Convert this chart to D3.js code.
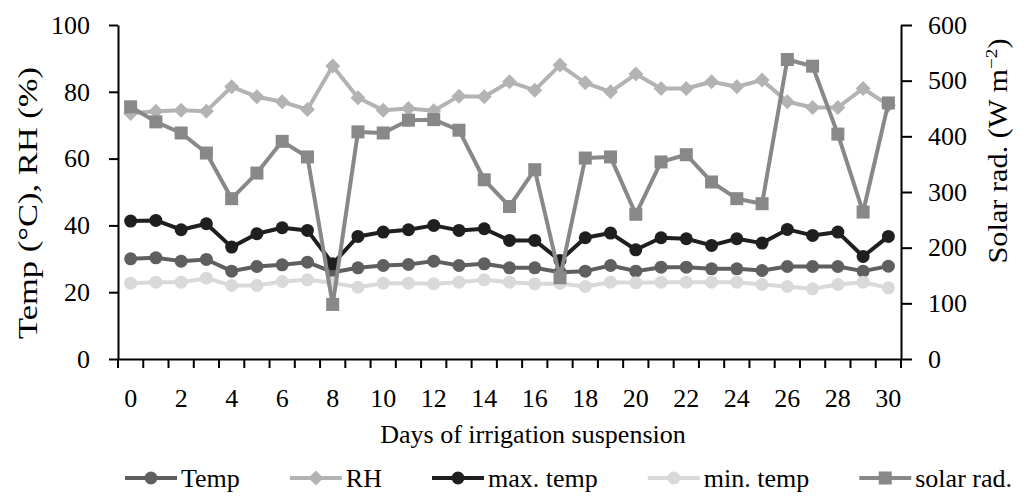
<!DOCTYPE html>
<html><head><meta charset="utf-8">
<script src="https://cdn.jsdelivr.net/npm/d3@7"></script>
<style>
body{margin:0;background:#fff}
text{font-family:"Liberation Serif","Times New Roman",serif;fill:#000}
</style></head>
<body>
<svg id="c" width="1024" height="499"></svg>
<script>
const days=[0,1,2,3,4,5,6,7,8,9,10,11,12,13,14,15,16,17,18,19,20,21,22,23,24,25,26,27,28,29,30];
const temp=[30.0,30.3,29.3,29.8,26.3,27.7,28.2,29.0,26.0,27.3,28.0,28.3,29.3,28.0,28.5,27.3,27.3,26.0,26.3,28.0,26.3,27.5,27.5,27.0,27.0,26.5,27.7,27.7,27.7,26.3,27.8];
const rh=[73.5,74.2,74.5,74.2,81.5,78.5,77.0,74.7,87.7,78.2,74.5,75.0,74.3,78.7,78.5,83.0,80.5,88.0,82.7,80.0,85.3,81.0,81.0,83.0,81.5,83.5,77.0,75.3,75.3,81.0,76.0];
const maxTemp=[41.3,41.5,38.7,40.5,33.5,37.5,39.3,38.5,28.5,36.7,38.0,38.7,40.0,38.5,39.0,35.5,35.5,29.5,36.3,37.7,32.7,36.3,36.0,34.0,36.0,34.7,38.8,37.0,38.0,30.7,36.7];
const minTemp=[22.7,23.0,23.0,24.2,22.0,22.0,23.2,23.7,22.8,21.5,22.7,22.7,22.5,23.0,23.7,23.0,22.5,22.6,21.7,23.0,22.8,23.0,23.0,23.0,23.0,22.3,21.7,21.0,22.3,23.0,21.3];
const solar=[453,426,406,370,288,334,391,363,98,408,406,429,430,411,322,274,340,146,361,363,260,354,367,318,288,279,538,526,404,264,460];
const leftTicks=[0,20,40,60,80,100];
const rightTicks=[0,100,200,300,400,500,600];
const xTickLabels=[0,2,4,6,8,10,12,14,16,18,20,22,24,26,28,30];

const FONT='"Liberation Serif","Times New Roman",serif';
const svg=d3.select("#c");
const L=118,R=901,T=25,B=359;
const x=d3.scaleBand().domain(days).range([L,R]);
const cx=d=>x(d)+x.bandwidth()/2;
const yL=d3.scaleLinear().domain([0,100]).range([B,T]);
const yR=d3.scaleLinear().domain([0,600]).range([B,T]);

// axes
const gl=svg.append("g").attr("transform",`translate(${L},0)`)
  .call(d3.axisLeft(yL).tickValues(leftTicks).tickSize(9).tickSizeOuter(0).tickPadding(19));
const gr=svg.append("g").attr("transform",`translate(${R},0)`)
  .call(d3.axisRight(yR).tickValues(rightTicks).tickSize(11).tickSizeOuter(0).tickPadding(16));
const gx=svg.append("g").attr("transform",`translate(0,${B})`)
  .call(d3.axisBottom(x).tickValues(xTickLabels).tickSize(0).tickSizeOuter(0).tickPadding(30));
gx.selectAll(".tick line").remove();
const bounds=days.map(d=>x(d)).concat([R]);
svg.append("g").selectAll("line").data(bounds).join("line")
  .attr("x1",d=>d).attr("x2",d=>d).attr("y1",B).attr("y2",B+9)
  .attr("stroke","#000").attr("stroke-width",2);
[gl,gr,gx].forEach(g=>{
  g.attr("font-family",null).attr("font-size",null);
  g.selectAll("path.domain").attr("stroke","#000").attr("stroke-width",2);
  g.selectAll(".tick line").attr("stroke","#000").attr("stroke-width",2);
  g.selectAll("text").style("font-family",FONT).style("font-size","26px").attr("fill","#000");
});

// titles
svg.append("text").attr("x",533).attr("y",443).attr("text-anchor","middle")
  .style("font-size","26px").text("Days of irrigation suspension");
svg.append("text").attr("transform","translate(37,203) rotate(-90)").attr("text-anchor","middle")
  .style("font-size","27px").attr("textLength",272).attr("lengthAdjust","spacingAndGlyphs")
  .text("Temp (°C), RH (%)");
const rt=svg.append("text").attr("transform","translate(1007,151) rotate(-90)").attr("text-anchor","middle")
  .style("font-size","27px").attr("textLength",225).attr("lengthAdjust","spacingAndGlyphs");
rt.append("tspan").text("Solar rad. (W m");
rt.append("tspan").attr("dy",-10).style("font-size","17px").text("−2");
rt.append("tspan").attr("dy",10).text(")");

// series
const series=[
  {name:"Temp",vals:temp,color:"#5f5f5f",shape:"circle",y:yL},
  {name:"RH",vals:rh,color:"#b3b3b3",shape:"diamond",y:yL},
  {name:"max. temp",vals:maxTemp,color:"#1f1f1f",shape:"circle",y:yL},
  {name:"min. temp",vals:minTemp,color:"#d9d9d9",shape:"circle",y:yL},
  {name:"solar rad.",vals:solar,color:"#888888",shape:"square",y:yR}
];
function marker(g,shape,color){
  if(shape==="circle") g.append("circle").attr("r",6.5).attr("fill",color);
  else if(shape==="square") g.append("rect").attr("x",-6.5).attr("y",-6.5).attr("width",13).attr("height",13).attr("fill",color);
  else g.append("path").attr("d","M0,-7.5L7.5,0L0,7.5L-7.5,0Z").attr("fill",color);
}
series.forEach(s=>{
  const line=d3.line().x((v,i)=>cx(days[i])).y(v=>s.y(v));
  const g=svg.append("g");
  g.append("path").attr("d",line(s.vals)).attr("fill","none").attr("stroke",s.color).attr("stroke-width",4).attr("stroke-linejoin","round");
  s.vals.forEach((v,i)=>{
    const mg=g.append("g").attr("transform",`translate(${cx(days[i])},${s.y(v)})`);
    marker(mg,s.shape,s.color);
  });
});

// legend: spread evenly between left and right bounds
const LG0=125, LG1=1012, LINE=52, GAP=4;
const lg=svg.append("g").attr("transform","translate(0,478)");
const items=series.map(s=>{
  const it=lg.append("g");
  it.append("line").attr("x1",0).attr("x2",LINE).attr("y1",0).attr("y2",0).attr("stroke",s.color).attr("stroke-width",4);
  const mg=it.append("g").attr("transform",`translate(${LINE/2},0)`); marker(mg,s.shape,s.color);
  const t=it.append("text").attr("x",LINE+GAP).attr("y",9).style("font-size","26px").text(s.name);
  return {it,w:LINE+GAP+t.node().getComputedTextLength()};
});
const sumW=d3.sum(items,d=>d.w);
const between=(LG1-LG0-sumW)/(items.length-1);
let lx=LG0;
items.forEach(d=>{d.it.attr("transform",`translate(${lx},0)`); lx+=d.w+between;});
</script>
</body></html>
